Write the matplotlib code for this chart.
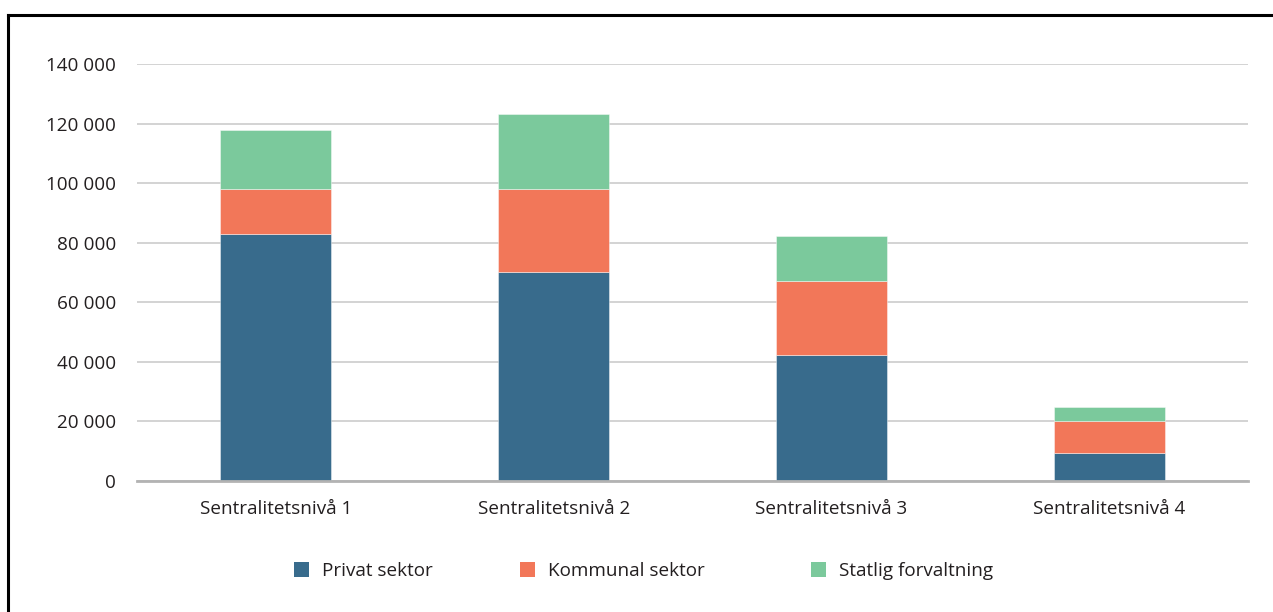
import matplotlib
matplotlib.use("Agg")
import matplotlib.pyplot as plt
from matplotlib.ticker import FuncFormatter, MultipleLocator
from matplotlib.lines import Line2D
from matplotlib.patches import Patch
import numpy as np

categories = ["Sentralitetsnivå 1", "Sentralitetsnivå 2", "Sentralitetsnivå 3", "Sentralitetsnivå 4"]
privat = [83000, 70200, 42200, 9400]
kommunal = [15000, 27900, 25100, 10800]
statlig = [19700, 25100, 14800, 4650]
series_names = ["Privat sektor", "Kommunal sektor", "Statlig forvaltning"]
colors = ["#386b8c", "#f27759", "#7bc99c"]

plt.rcParams['font.family'] = ['Open Sans', 'DejaVu Sans']
text_color = "#231f20"
fs = 13.6

W, H = 1273, 612
fig = plt.figure(figsize=(W / 100, H / 100), dpi=100)
ax = fig.add_axes([137 / W, 1 - 481 / H, (1248 - 137) / W, (481 - 64) / H])

x = np.arange(len(categories))
bw = 0.4
bottom = np.zeros(len(categories))
for vals, name, c in zip([privat, kommunal, statlig], series_names, colors):
    ax.bar(x, vals, bw, bottom=bottom, color=c, label=name, zorder=3,
           edgecolor="#ffffff80", linewidth=0.6)
    bottom = bottom + np.array(vals)

ax.set_ylim(0, 140000)
ax.set_xlim(-0.5, 3.5)
ax.yaxis.set_major_locator(MultipleLocator(20000))
ax.yaxis.set_major_formatter(FuncFormatter(lambda v, p: f"{int(v):,}".replace(",", " ")))
ax.grid(axis="y", color="#cccccc", linewidth=1.2, zorder=0)
ax.set_axisbelow(True)
for s in ["top", "right", "left"]:
    ax.spines[s].set_visible(False)
ax.spines["bottom"].set_color("#b3b3b3")
ax.spines["bottom"].set_linewidth(2)
ax.spines["bottom"].set_zorder(4)
ax.set_xticks(x)
ax.set_xticklabels(categories)
ax.tick_params(axis="both", length=0, labelsize=fs, colors=text_color)
ax.tick_params(axis="y", pad=15)
ax.tick_params(axis="x", pad=14)

# legend entries placed at the positions of the reference
legend_x = [294, 520, 811]
for name, c, lx in zip(series_names, colors, legend_x):
    fig.legend([Patch(facecolor=c, edgecolor="none")], [name], loc="center left",
               bbox_to_anchor=(lx / W, 1 - 571 / H), frameon=False, fontsize=fs,
               handlelength=0.82, handleheight=0.82, handletextpad=0.65,
               borderpad=0, borderaxespad=0, labelcolor=text_color)

# frame lines (top and left)
fig.add_artist(Line2D([8 / W, 1.0], [1 - 15 / H, 1 - 15 / H], color="black", linewidth=2.2,
                      transform=fig.transFigure))
fig.add_artist(Line2D([8 / W, 8 / W], [1 - 15 / H, 0.0], color="black", linewidth=2.2,
                      transform=fig.transFigure))

fig.savefig("out.png", dpi=100, facecolor="white")
